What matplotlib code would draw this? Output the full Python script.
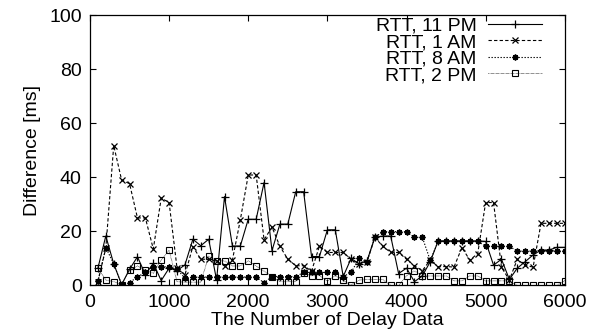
import numpy as np
import matplotlib
matplotlib.use("Agg")
import matplotlib.pyplot as plt

plt.rcParams['font.family'] = ['Liberation Sans', 'DejaVu Sans']

# number of delay data (x), every 100 from 100 to 6000
delay_count = np.arange(100, 6001, 100)

rtt_11pm = [6.4, 18.3, 8.0, 0.3, 6.0, 10.6, 4.0, 8.2, 1.8, 6.4,
            5.5, 7.6, 17.1, 14.7, 17.1, 2.0, 32.9, 14.6, 14.6, 24.5,
            24.5, 38.1, 12.9, 22.7, 22.7, 34.7, 34.7, 10.7, 10.7, 20.6,
            20.6, 3.3, 10.0, 8.0, 9.0, 17.8, 18.3, 18.3, 4.4, 6.4,
            1.4, 3.5, 8.8, 16.5, 16.5, 16.5, 16.5, 16.5, 16.5, 16.3,
            7.5, 9.7, 2.2, 6.4, 8.8, 11.3, 13.1, 13.1, 14.1, 14.1]

rtt_1am = [1.4, 13.8, 51.8, 39.0, 37.7, 25.0, 25.0, 13.5, 32.3, 30.7,
           6.4, 3.9, 14.4, 9.7, 9.7, 9.0, 7.2, 9.4, 24.3, 40.9,
           40.9, 16.9, 21.6, 14.5, 9.7, 7.3, 7.3, 5.3, 14.6, 12.2,
           12.2, 12.2, 9.7, 8.0, 8.8, 17.8, 14.5, 12.2, 12.2, 9.7,
           7.3, 5.5, 9.4, 6.9, 7.0, 6.8, 14.0, 9.4, 11.8, 30.7,
           30.7, 6.7, 2.0, 9.7, 7.4, 6.8, 23.0, 23.0, 23.0, 23.0]

rtt_8am = [1.5, 14.0, 8.0, 0.3, 1.0, 3.2, 4.8, 7.0, 7.0, 6.8,
           6.0, 2.7, 3.0, 3.1, 3.1, 3.1, 3.1, 3.1, 3.1, 3.1,
           3.1, 1.0, 3.3, 3.3, 3.3, 3.3, 4.8, 4.8, 4.8, 4.8,
           4.8, 3.3, 4.8, 10.0, 8.8, 17.8, 19.9, 19.9, 19.9, 19.9,
           17.8, 17.8, 9.3, 16.3, 16.3, 16.3, 16.3, 16.3, 16.3, 14.5,
           14.5, 14.5, 14.5, 12.7, 12.7, 12.7, 12.7, 12.7, 12.7, 12.7]

rtt_2pm = [6.4, 2.0, 1.4, 0.2, 5.7, 7.2, 5.7, 4.5, 9.4, 13.0,
           1.4, 1.2, 1.2, 1.2, 10.8, 9.1, 9.1, 7.2, 7.2, 9.1,
           7.2, 5.3, 3.3, 1.4, 1.4, 1.4, 4.5, 3.6, 3.6, 1.6,
           3.6, 1.9, 0.1, 2.0, 2.2, 2.2, 2.2, 0.0, 0.0, 3.5,
           5.4, 3.5, 3.5, 3.5, 3.5, 1.7, 1.7, 3.5, 3.5, 1.7,
           1.7, 1.7, 1.7, 0.0, 0.0, 0.0, 0.0, 0.0, 0.0, 1.8]

labels = ['RTT, 11 PM', 'RTT, 1 AM', 'RTT, 8 AM', 'RTT, 2 PM']

fig = plt.figure(figsize=(5.92, 3.35), dpi=100)
ax = fig.add_axes([0.152, 0.148, 0.802, 0.806])

lw = 0.8
ax.plot(delay_count, rtt_11pm, color='black', lw=lw, ls='-',
        marker='+', ms=5.5, mew=0.9, label=labels[0])
ax.plot(delay_count, rtt_1am, color='black', lw=lw, ls=(0, (3, 2)),
        marker='x', ms=4.2, mew=0.9, label=labels[1])
ax.plot(delay_count, rtt_8am, color='black', lw=lw, ls=(0, (1.2, 1.5)),
        marker=(8, 2, 0), ms=4.2, mew=1.1, label=labels[2])
ax.plot(delay_count, rtt_2pm, color='black', lw=0.6, ls=(0, (0.6, 0.9)),
        marker='s', ms=4.2, mew=0.8, mfc='none', label=labels[3])

ax.set_xlim(0, 6000)
ax.set_ylim(0, 100)
ax.set_xticks(np.arange(0, 6001, 1000))
ax.set_yticks(np.arange(0, 101, 20))
ax.tick_params(direction='in', length=4, width=0.8, top=True, right=True,
               labelsize=14, pad=6)
for s in ax.spines.values():
    s.set_linewidth(0.9)

ax.set_xlabel('The Number of Delay Data', fontsize=14, labelpad=1)
ax.set_ylabel('Difference [ms]', fontsize=14, labelpad=6)

leg = ax.legend(loc='upper right', bbox_to_anchor=(0.952, 0.995),
                frameon=False, markerfirst=False, fontsize=14,
                handlelength=2.8, labelspacing=-0.05, handletextpad=0.55,
                borderaxespad=0.0, borderpad=0.0)
for t in leg.get_texts():
    t.set_ha('right')

fig.savefig('out.png', dpi=100)
